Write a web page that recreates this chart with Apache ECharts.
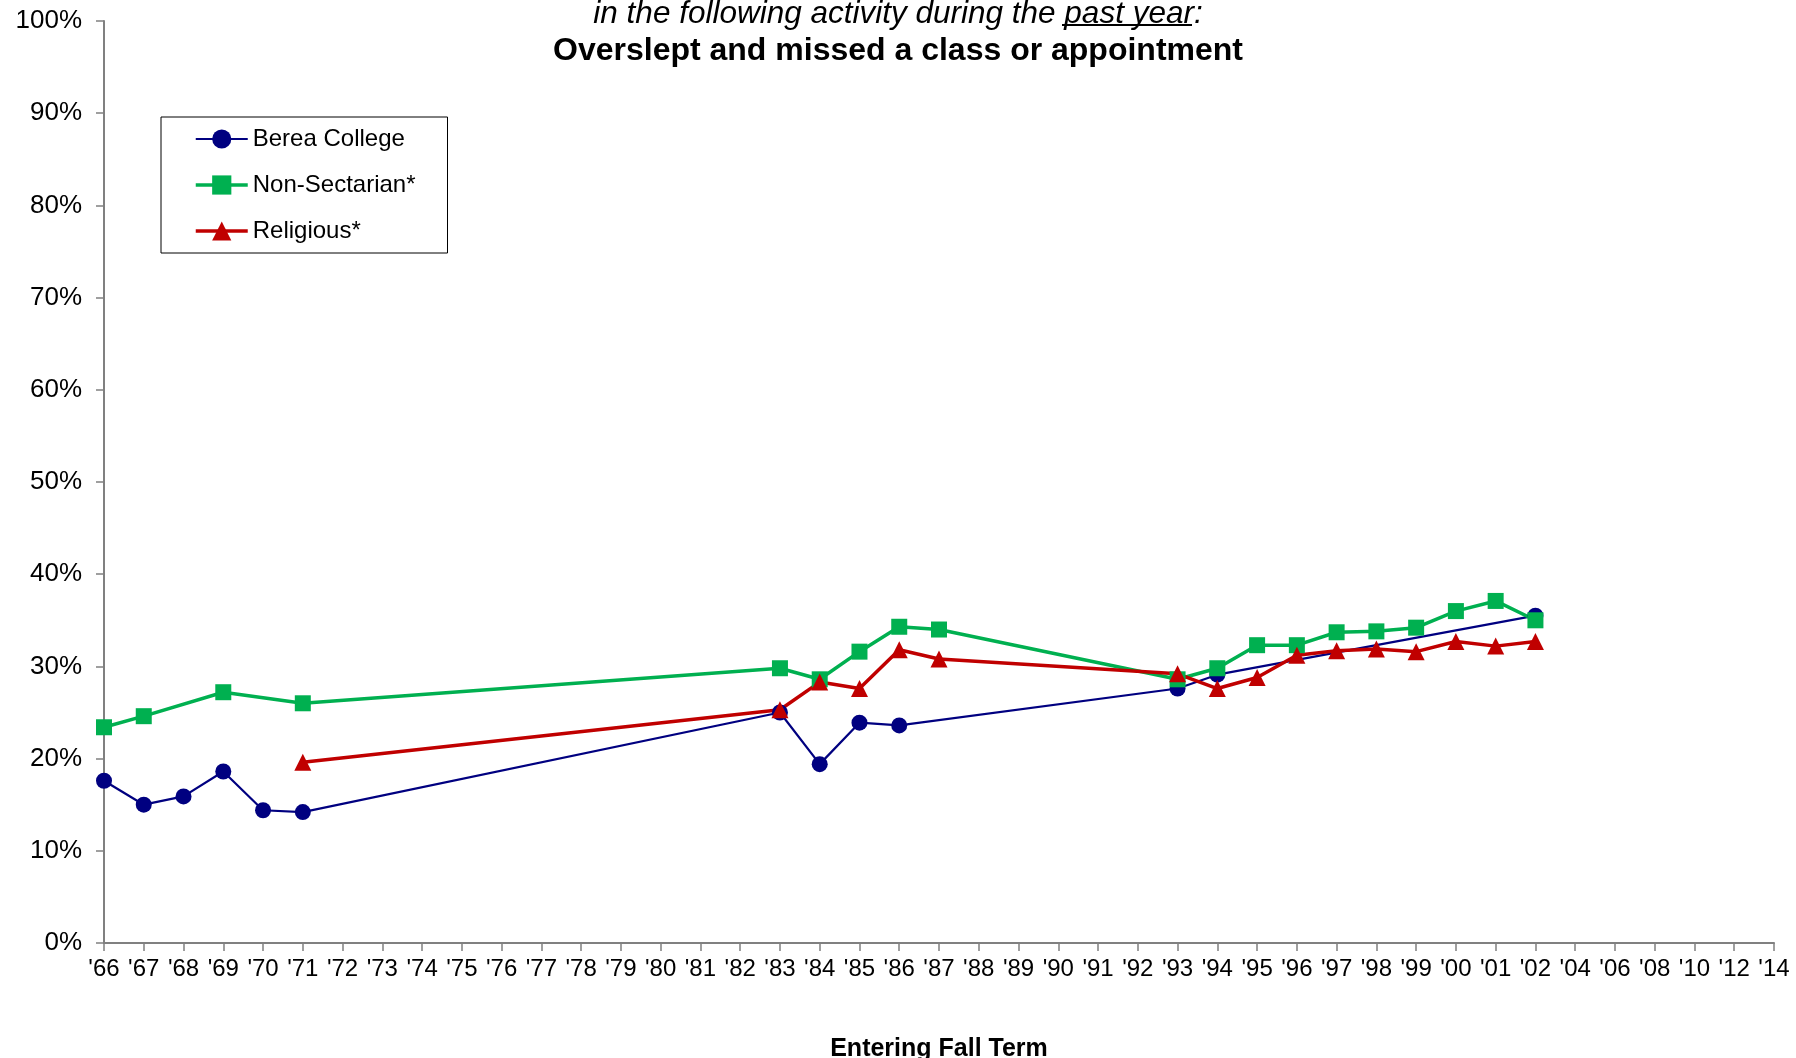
<!DOCTYPE html>
<html><head><meta charset="utf-8">
<script src="https://cdn.jsdelivr.net/npm/echarts@6/dist/echarts.min.js"></script>
<style>html,body{margin:0;padding:0;background:#fff}#c{width:1796px;height:1058px}</style>
</head><body><div id="c"></div>
<script>
const categories = ["'66","'67","'68","'69","'70","'71","'72","'73","'74","'75","'76","'77","'78","'79","'80","'81","'82","'83","'84","'85","'86","'87","'88","'89","'90","'91","'92","'93","'94","'95","'96","'97","'98","'99","'00","'01","'02","'04","'06","'08","'10","'12","'14"];
const berea = [17.6,15.0,15.9,18.6,14.4,14.2, null,null,null,null,null,null,null,null,null,null,null, 25.0,19.4,23.9,23.6, null,null,null,null,null,null, 27.6,29.1, null,null,null,null,null,null,null, 35.5, null,null,null,null,null,null];
const nonSectarian = [23.4,24.6,null,27.2,null,26.0, null,null,null,null,null,null,null,null,null,null,null, 29.8,28.6,31.6,34.3,34.0, null,null,null,null,null, 28.6,29.8,32.3,32.3,33.7,33.8,34.2,36.0,37.1,35.0, null,null,null,null,null,null];
const religious = [null,null,null,null,null,19.6, null,null,null,null,null,null,null,null,null,null,null, 25.3,28.3,27.6,31.8,30.8, null,null,null,null,null, 29.2,27.6,28.8,31.2,31.7,31.9,31.6,32.7,32.2,32.7, null,null,null,null,null,null];
const yTicks = [0,10,20,30,40,50,60,70,80,90,100];

const FONT = "'Liberation Sans', Arial, sans-serif";
const chart = echarts.init(document.getElementById('c'), null, {renderer:'canvas'});
chart.setOption({
  animation: false,
  backgroundColor: '#fff',
  title: {
    left: 'center', top: -9,
    text: '{i|in the following activity during the }{i|past year}{i|:}\n{b|Overslept and missed a class or appointment}',
    textStyle: {
      fontFamily: FONT, fontWeight: 'normal',
      rich: {
        i: {fontFamily: FONT, fontStyle: 'italic', fontWeight: 'normal', fontSize: 31.5, color: '#000', lineHeight: 37},
        b: {fontFamily: FONT, fontWeight: 'bold', fontSize: 32, color: '#000', lineHeight: 37}
      }
    }
  },
  graphic: [{type:'line', shape:{x1:1062,y1:25,x2:1192,y2:25}, style:{stroke:'#000', lineWidth:2}}],
  legend: {
    orient: 'vertical', left: 161, top: 117,
    borderColor: '#000', borderWidth: 1,
    padding: [9, 32, 9, 33],
    itemGap: 20, itemWidth: 52, itemHeight: 24,
    textStyle: {fontFamily: FONT, fontSize: 24, color: '#000', lineHeight: 26},
    data: [
      {name: 'Berea College', lineStyle: {width: 2.2}},
      {name: 'Non-Sectarian*', lineStyle: {width: 3.5}},
      {name: 'Religious*', lineStyle: {width: 3.5}}
    ]
  },
  grid: {left: 104, right: 22, top: 21, bottom: 115, containLabel: false, outerBoundsMode: 'none'},
  xAxis: {
    type: 'category', data: categories, boundaryGap: false,
    name: 'Entering Fall Term', nameLocation: 'middle', nameGap: 94,
    nameTextStyle: {fontFamily: FONT, fontWeight: 'bold', fontSize: 25, color: '#000'},
    axisLine: {lineStyle: {color: '#808080', width: 2}},
    axisTick: {show: true, length: 8, interval: 0, alignWithLabel: true, lineStyle: {color: '#808080', width: 1.5}},
    axisLabel: {interval: 0, margin: 14, fontFamily: "'Liberation Sans Narrow', " + FONT, fontSize: 24, color: '#000'},
    splitLine: {show: false}
  },
  yAxis: {
    type: 'value', min: 0, max: 100, interval: 10,
    axisLine: {show: true, lineStyle: {color: '#808080', width: 2}},
    axisTick: {show: true, length: 8, lineStyle: {color: '#808080', width: 1.5}},
    axisLabel: {formatter: v => yTicks.includes(v) ? v + '%' : '', margin: 22, fontFamily: FONT, fontSize: 26, color: '#000'},
    splitLine: {show: false}
  },
  series: [
    {name: 'Berea College', type: 'line', data: berea, connectNulls: true,
     symbol: 'circle', symbolSize: 16, color: '#000080',
     lineStyle: {width: 2.2, color: '#000080'}, itemStyle: {color: '#000080'}},
    {name: 'Non-Sectarian*', type: 'line', data: nonSectarian, connectNulls: true,
     symbol: 'rect', symbolSize: 16, color: '#00B050',
     lineStyle: {width: 3.5, color: '#00B050'}, itemStyle: {color: '#00B050'}},
    {name: 'Religious*', type: 'line', data: religious, connectNulls: true,
     symbol: 'triangle', symbolSize: 17, color: '#C00000',
     lineStyle: {width: 3.5, color: '#C00000'}, itemStyle: {color: '#C00000'}}
  ]
});
</script>
</body></html>
